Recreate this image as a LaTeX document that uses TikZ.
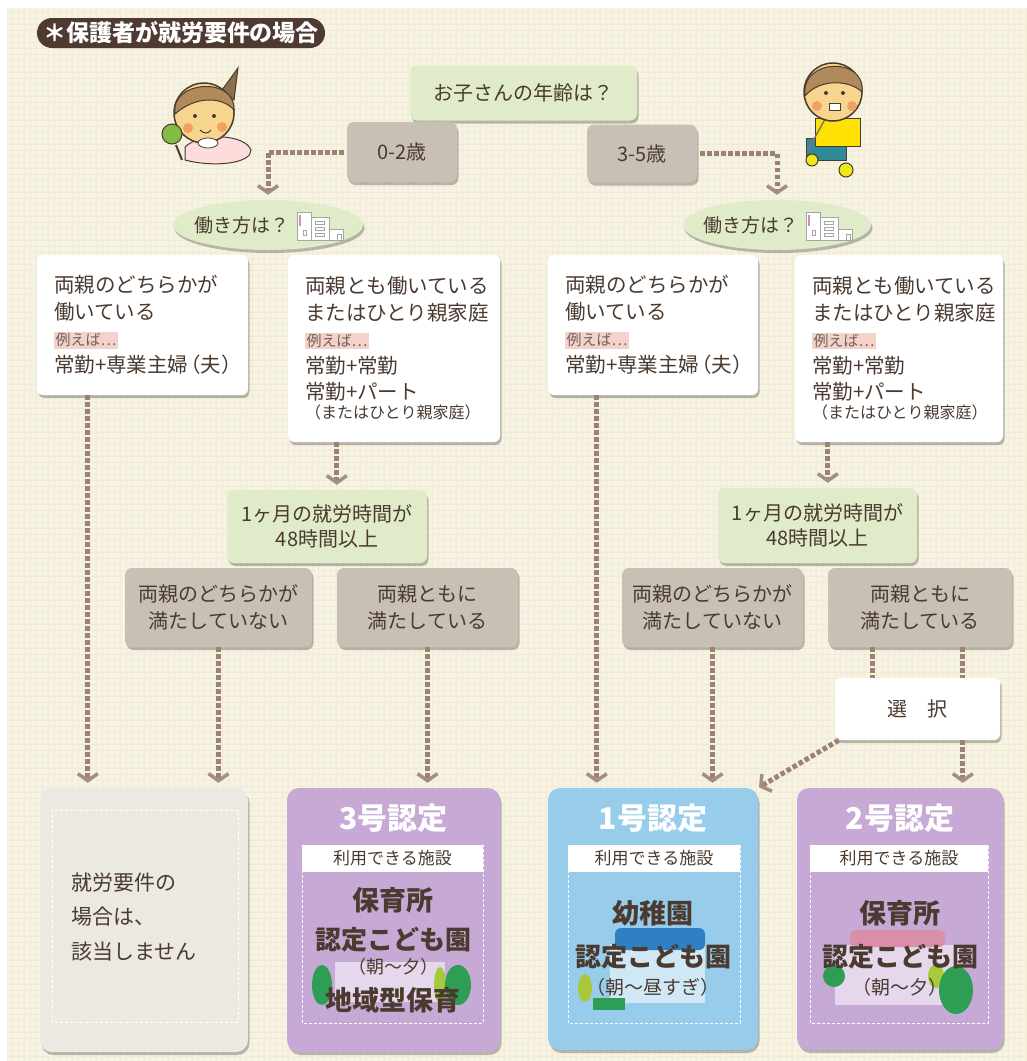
\documentclass[tikz,border=0pt]{standalone}
\usepackage{fontspec}
\setmainfont{Noto Sans CJK JP}
\usetikzlibrary{arrows.meta,shadows,shapes.geometric,calc}

\definecolor{paper}{HTML}{F7F3E2}
\definecolor{gridc}{HTML}{F0EAD6}
\definecolor{ink}{HTML}{4A3A30}
\definecolor{qgreen}{HTML}{E0EBC9}
\definecolor{taupe}{HTML}{C8C0B4}
\definecolor{flowc}{HTML}{9C8272}
\definecolor{tipc}{HTML}{A48E80}
\definecolor{hlpink}{HTML}{F5D2C9}
\definecolor{pill}{HTML}{4E3A31}
\definecolor{lav}{HTML}{C6A9D5}
\definecolor{sky}{HTML}{97CCEA}
\definecolor{pale}{HTML}{ECE9E3}
\definecolor{tree}{HTML}{2E9E55}
\definecolor{leaf}{HTML}{A8C93C}
\definecolor{roofpink}{HTML}{D98FA8}
\definecolor{roofblue}{HTML}{2F7FC4}
\definecolor{skin}{HTML}{F8D58E}
\definecolor{hair}{HTML}{B08A5A}
\definecolor{cheek}{HTML}{F0A060}

\newcommand\fsz[2]{\fontsize{#1}{#2}\selectfont}
\newcommand\exmark[1]{{\setlength\fboxsep{1.5pt}\colorbox{hlpink}{\fsz{15}{15}\color{ink!80}#1}}}

\tikzset{
  sh/.style={drop shadow={shadow xshift=1.5pt,shadow yshift=-3pt,opacity=.25,fill=black}},
  qbox/.style={sh, rounded corners=7pt, fill=qgreen, text=ink, align=center, inner sep=0pt, font=\fsz{20}{25}},
  agebox/.style={sh, rounded corners=7pt, fill=taupe, text=ink, align=center, inner sep=0pt, font=\fsz{20}{27}},
  wbox/.style={sh, rounded corners=6pt, fill=white, text=ink, align=left, inner xsep=17pt, inner ysep=0pt, font=\fsz{20.5}{26.5}},
  certbox/.style={sh, rounded corners=12pt, inner sep=0pt},
  ctitle/.style={text=white, font=\bfseries\fsz{30}{30}, inner sep=0pt},
  band/.style={text=ink, font=\fsz{17}{17}, inner sep=0pt},
  fac/.style={text=ink, inner sep=0pt},
  innerdash/.style={draw=white, line width=1pt, dash pattern=on 3pt off 2pt},
  flowline/.style={draw=flowc, line width=5pt, dash pattern=on 4.5pt off 2.5pt},
  flow/.style={flowline, -{Straight Barb[length=7pt,width=20pt,line width=3.5pt,color=tipc]}, shorten >=5pt},
}

% small office building icon, top-left corner at (#1,#2)
\newcommand\officeicon[2]{%
  \begin{scope}[shift={(#1,#2)}, draw=gray!70, line width=.8pt]
    \filldraw[fill=white] (0,0) rectangle (14,28);
    \fill[roofpink] (2,3) rectangle (4,14);
    \filldraw[fill=white] (14,5) rectangle (32,28);
    \draw (18,9) rectangle (27,12) (18,15) rectangle (27,18) (18,21) rectangle (27,24);
    \draw (6,18) rectangle (9,23);
    \filldraw[fill=white] (32,17) rectangle (46,28);
    \draw (40,22) rectangle (44,28);
  \end{scope}}

\begin{document}
\begin{tikzpicture}[x=1pt,y=-1pt]
\useasboundingbox (0,0) rectangle (1027,1061);
\fill[white] (0,0) rectangle (1027,1061);
\fill[paper] (7,8) rectangle (1027,1061);
\draw[gridc, line width=.4pt, step=6pt] (7,8) grid (1027,1061);

% heading
\node[fill=pill, rounded corners=15pt, text=white, minimum width=288, minimum height=30,
      font=\bfseries\fsz{23}{23}, inner sep=0pt] (title) at (181,33) {＊保護者が就労要件の場合};

% baby
\filldraw[fill=hair!80!black, draw=ink, line width=1pt] (222,90) -- (238,68) -- (234,100) -- cycle;
\filldraw[fill=pink!55, draw=ink, line width=1pt] (185,147) .. controls (200,132) and (245,134) .. (251,150)
   .. controls (252,163) and (215,168) .. (185,160) -- cycle;
\filldraw[fill=skin, draw=ink, line width=1.5pt] (204,113) circle (30);
\filldraw[fill=hair, draw=ink, line width=1pt] (175,114) .. controls (170,80) and (236,76) .. (234,110)
   .. controls (222,96) and (195,96) .. (175,114) -- cycle;
\fill[ink] (195,116) circle (2) (214,116) circle (2);
\fill[cheek] (188,128) circle (5) (222,127) circle (5);
\draw[ink, line width=1pt] (200,130) .. controls (204,134) and (208,134) .. (211,130);
\filldraw[fill=white, draw=ink, line width=.8pt] (208,143) ellipse (10 and 5);
\draw[ink, line width=2pt] (176,145) -- (182,160);
\filldraw[fill=leaf!70!tree, draw=ink, line width=1pt] (172,134) circle (10);

% boy
\filldraw[fill=roofblue!60!tree, draw=ink, line width=1pt] (806,138) rectangle (846,160);
\filldraw[fill=yellow!85!orange, draw=ink, line width=1pt] (815,118) rectangle (860,146);
\draw[ink!70, line width=1.5pt] (830,110) -- (808,150);
\filldraw[fill=yellow!80!leaf, draw=ink, line width=1pt] (812,160) circle (6) (846,170) circle (7);
\filldraw[fill=skin, draw=ink, line width=1.5pt] (833,92) circle (29);
\filldraw[fill=hair, draw=ink, line width=1pt] (805,96) .. controls (800,58) and (866,56) .. (862,92)
   .. controls (850,80) and (820,78) .. (805,96) -- cycle;
\fill[ink] (826,93) circle (2) (843,93) circle (2);
\fill[cheek] (817,106) circle (5) (852,106) circle (5);
\filldraw[fill=white, draw=ink, line width=.8pt] (829,103) rectangle (840,110);

% age question
\node[qbox, minimum width=227, minimum height=55] (age) at (523.5,93) {お子さんの年齢は？};
\node[agebox, minimum width=110, minimum height=60] (a02) at (402,152) {0-2歳};
\node[agebox, minimum width=110, minimum height=58] (a35) at (642,153.5) {3-5歳};

% how the parents work
\node[qbox, ellipse, minimum width=190, minimum height=50] (work1) at (268,225) {};
\node[text=ink, font=\fsz{19}{19}, inner sep=0pt] (work1t) at (242,225) {働き方は？};
\officeicon{297}{212}
\node[qbox, ellipse, minimum width=188, minimum height=50] (work2) at (777,225) {};
\node[text=ink, font=\fsz{19}{19}, inner sep=0pt] (work2t) at (751,225) {働き方は？};
\officeicon{806}{212}

\node[wbox, text width=177, minimum height=140] (wb1) at (142.5,325)
  {両親のどちらかが\\働いている\\\exmark{例えば…}\\常勤+専業主婦\kern-.4em（夫）};
\node[wbox, text width=178, minimum height=187] (wb2) at (394,348.5)
  {両親とも働いている\\またはひとり親家庭\\\exmark{例えば…}\\常勤+常勤\\常勤+パート\\{\fsz{16}{20}\kern-.45em（またはひとり親家庭）}};
\node[wbox, text width=176, minimum height=140] (wb3) at (653,325)
  {両親のどちらかが\\働いている\\\exmark{例えば…}\\常勤+専業主婦\kern-.4em（夫）};
\node[wbox, text width=174, minimum height=187] (wb4) at (899,348.5)
  {両親とも働いている\\またはひとり親家庭\\\exmark{例えば…}\\常勤+常勤\\常勤+パート\\{\fsz{16}{20}\kern-.45em（またはひとり親家庭）}};

% working hours
\node[qbox, minimum width=200, minimum height=73] (hours1) at (327,526.5) {1ヶ月の就労時間が\\48時間以上};
\node[qbox, minimum width=199, minimum height=75] (hours2) at (817.5,525.5) {1ヶ月の就労時間が\\48時間以上};

\node[agebox, minimum width=187, minimum height=79] (g1) at (218.5,607.5) {両親のどちらかが\\満たしていない};
\node[agebox, minimum width=181, minimum height=79] (g2) at (427.5,607.5) {両親ともに\\満たしている};
\node[agebox, minimum width=181, minimum height=79] (g3) at (712.5,607.5) {両親のどちらかが\\満たしていない};
\node[agebox, minimum width=184, minimum height=79] (g4) at (920,607.5) {両親ともに\\満たしている};

\node[sh, fill=white, rounded corners=6pt, minimum width=165, minimum height=62, text=ink,
      font=\fsz{20}{20}, inner sep=0pt] (sel) at (917.5,709) {選\hspace{1em}択};

% outcome: not applicable
\node[certbox, fill=pale, minimum width=208, minimum height=264] (none) at (144,920) {};
\draw[innerdash] (52,810) rectangle (238,1022);
\node[anchor=west, text=ink, align=left, font=\fsz{21}{34.5}, inner sep=0pt] (nonet) at (71,917)
  {就労要件の\\場合は、\\該当しません};

% outcome: certificate 3
\node[certbox, fill=lav, minimum width=213, minimum height=264] (c3) at (393.5,920) {};
\node[ctitle] (c3t) at (393.5,818) {3号認定};
\fill[white] (302,845) rectangle (483,872);
\draw[innerdash] (302,845) rectangle (483,1023);
\fill[white, opacity=.55] (335,962) rectangle (445,1002);
\fill[tree] (322,985) ellipse (10 and 20);
\fill[leaf] (440,985) ellipse (6 and 18);
\fill[tree] (458,985) ellipse (13 and 20);
\node[band] (c3b) at (392.5,858.5) {利用できる施設};
\node[fac, font=\bfseries\fsz{27}{27}] (c3f1) at (393,900) {保育所};
\node[fac, font=\bfseries\fsz{26}{26}] (c3f2) at (393,940) {認定こども園};
\node[fac, font=\fsz{18}{18}] (c3f3) at (393,967) {（朝〜夕）};
\node[fac, font=\bfseries\fsz{27}{27}] (c3f4) at (393,1000) {地域型保育};

% outcome: certificate 1
\node[certbox, fill=sky, minimum width=210, minimum height=262] (c1) at (653,919) {};
\node[ctitle] (c1t) at (653,818) {1号認定};
\fill[white] (568,845) rectangle (740,872);
\draw[innerdash] (568,845) rectangle (740,1023);
\fill[white, opacity=.55] (610,944) rectangle (705,1003);
\fill[roofblue, rounded corners=6pt] (615,928) rectangle (705,950);
\fill[leaf] (585,988) ellipse (7 and 14);
\fill[tree] (593,998) rectangle (625,1010);
\node[band] (c1b) at (654,858.5) {利用できる施設};
\node[fac, font=\bfseries\fsz{27}{27}] (c1f1) at (653,913) {幼稚園};
\node[fac, font=\bfseries\fsz{26}{26}] (c1f2) at (653,957) {認定こども園};
\node[fac, font=\fsz{19}{19}] (c1f3) at (653,987) {（朝〜昼すぎ）};

% outcome: certificate 2
\node[certbox, fill=lav, minimum width=206, minimum height=262] (c2) at (900,919) {};
\node[ctitle] (c2t) at (900,818) {2号認定};
\fill[white] (810,845) rectangle (988,872);
\draw[innerdash] (810,845) rectangle (988,1023);
\fill[white, opacity=.55] (835,945) rectangle (960,1005);
\fill[roofpink, rounded corners=6pt] (850,930) rectangle (945,947);
\fill[tree] (834,976) ellipse (11 and 11);
\fill[leaf] (936,976) ellipse (8 and 12);
\fill[tree] (956,990) ellipse (17 and 24);
\node[band] (c2b) at (899,858.5) {利用できる施設};
\node[fac, font=\bfseries\fsz{27}{27}] (c2f1) at (900,913) {保育所};
\node[fac, font=\bfseries\fsz{26}{26}] (c2f2) at (900,957) {認定こども園};
\node[fac, font=\fsz{19}{19}] (c2f3) at (900,987) {（朝〜夕）};

% connectors
\draw[flow, shorten <=3pt] (a02.west) -| (work1.north);
\draw[flow, shorten <=3pt] (a35.east) -| (work2.north);
\draw[flow] ([xshift=49pt]wb2.south west) -- ([xshift=110pt]hours1.north west);
\draw[flow] ([xshift=33pt]wb4.south west) -- ([xshift=110pt]hours2.north west);
\draw[flow] ([xshift=51pt]wb1.south west) -- ([xshift=48pt]none.north west);
\draw[flow] (g1.south) -- (g1.south |- none.north);
\draw[flow] (g2.south) -- (g2.south |- c3.north);
\draw[flow] ([xshift=49pt]wb3.south west) -- ([xshift=49pt]c1.north west);
\draw[flow] (g3.south) -- (g3.south |- c1.north);
\draw[flowline] ([xshift=45pt]g4.south west) -- ([xshift=38pt]sel.north west);
\draw[flowline] ([xshift=135pt]g4.south west) -- ([xshift=128pt]sel.north west);
\draw[flow] ([xshift=128pt]sel.south west) -- ([xshift=166pt]c2.north west);
\draw[flow, shorten >=1pt] ([xshift=4pt]sel.south west) -- (c1.north east);
\end{tikzpicture}
\end{document}
